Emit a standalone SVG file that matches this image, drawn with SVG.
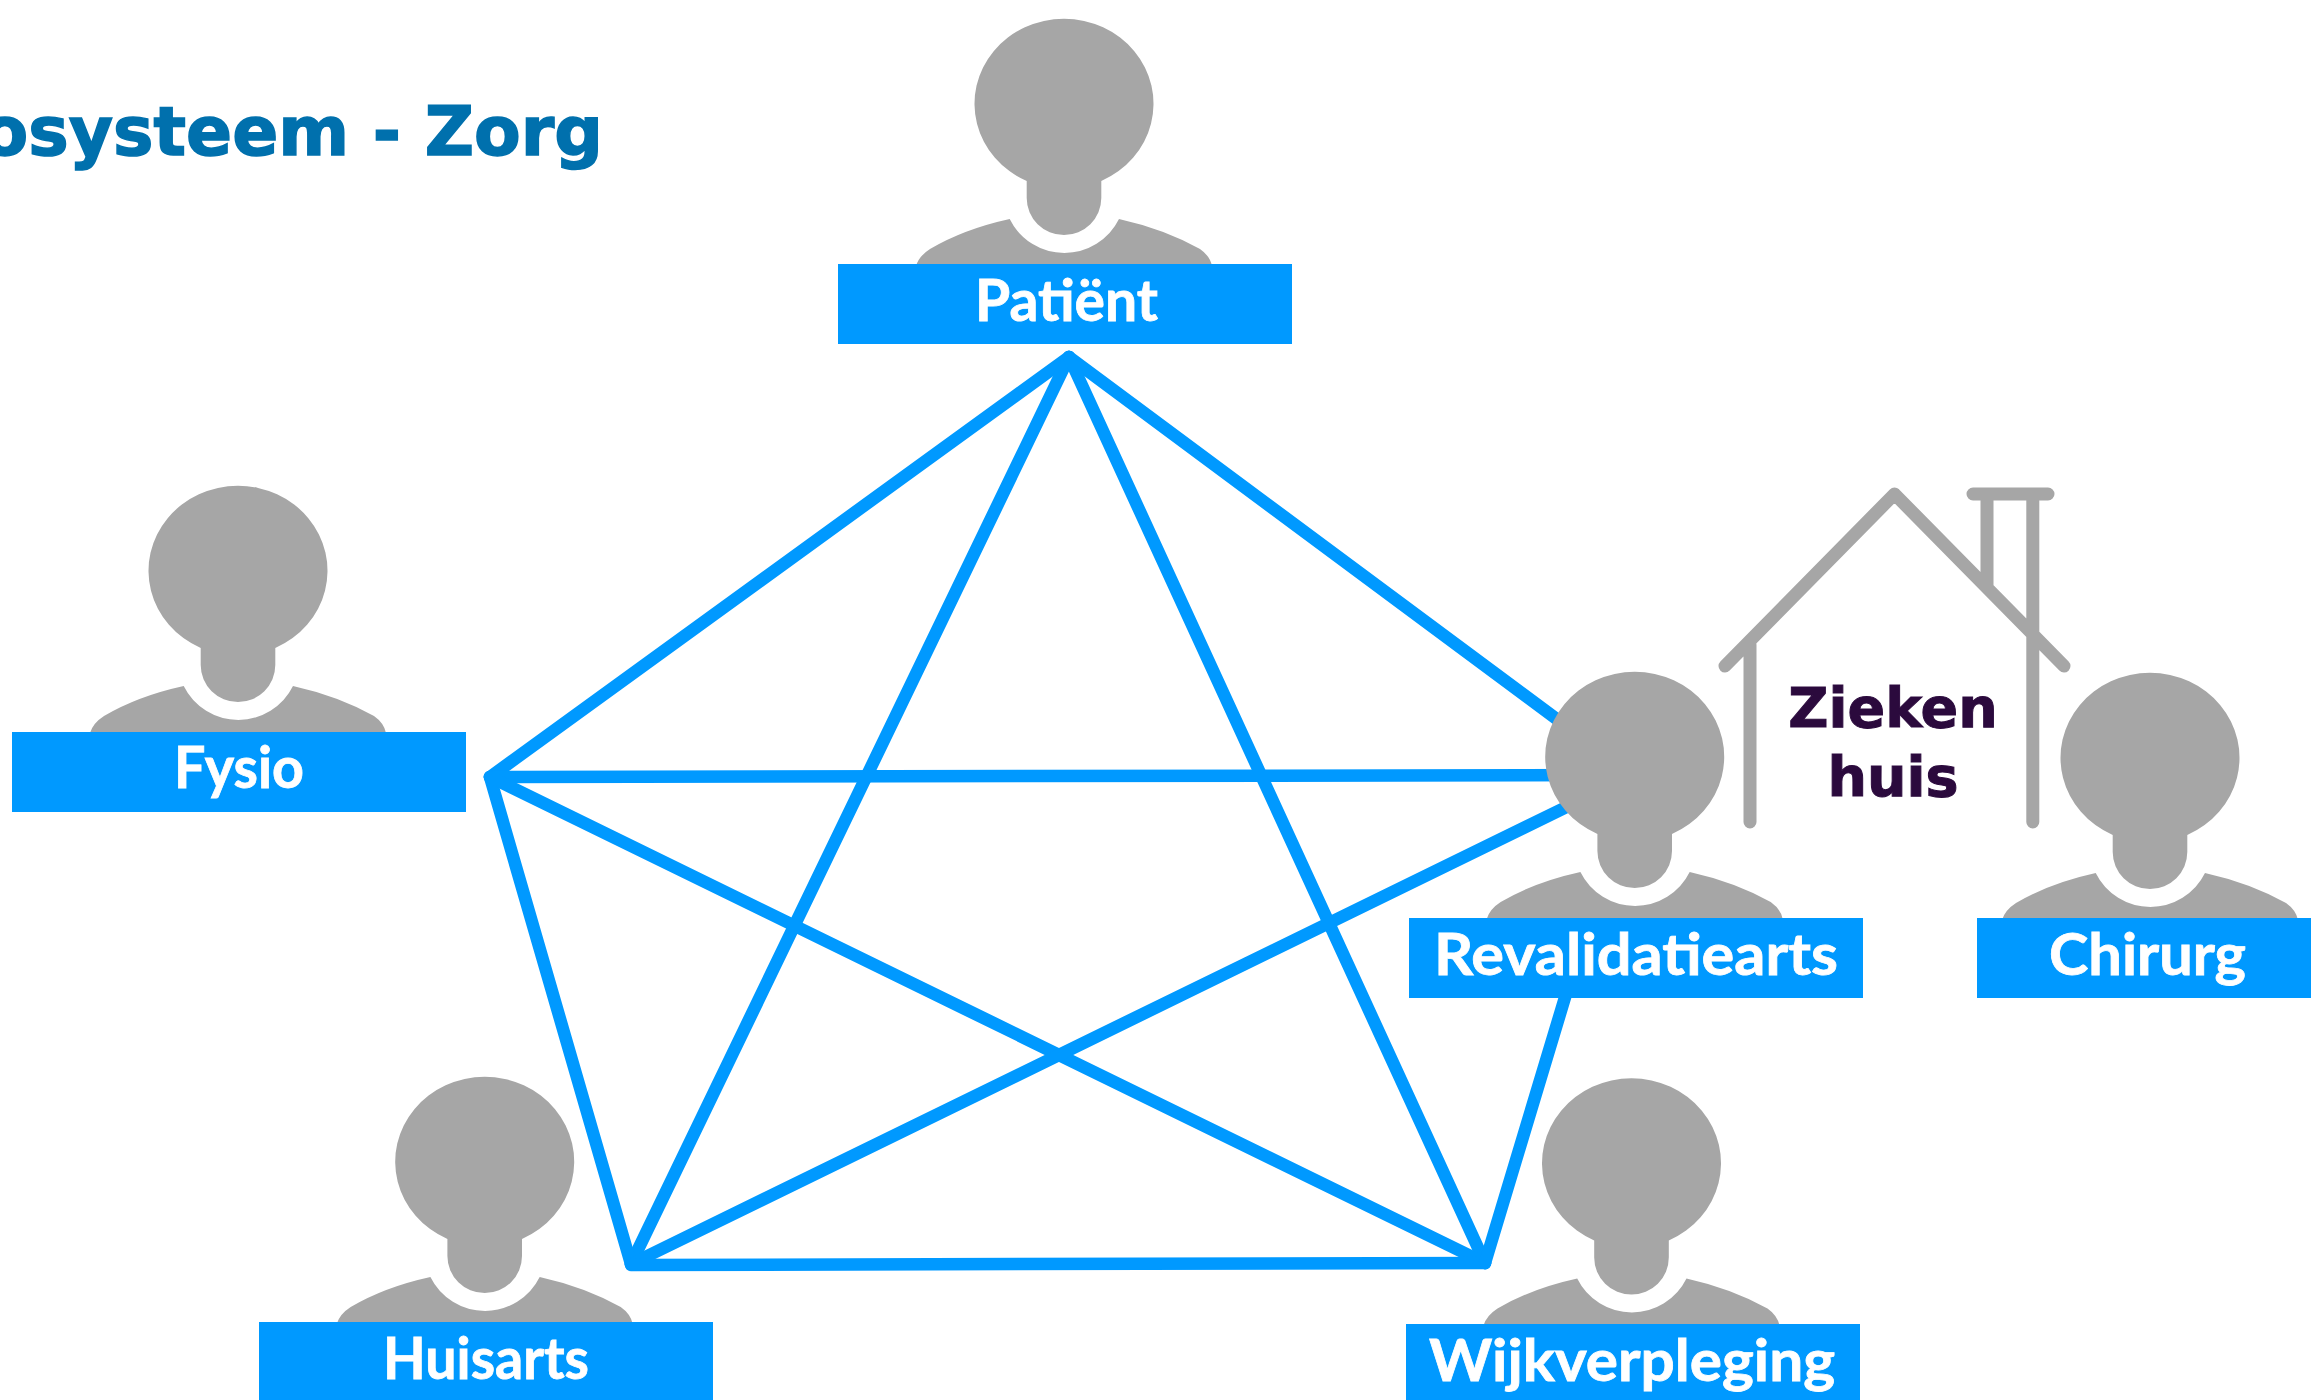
<svg xmlns="http://www.w3.org/2000/svg" xmlns:xlink="http://www.w3.org/1999/xlink" width="2311" height="1400" viewBox="0 0 2311 1400">
<style>
.person{fill:#a6a6a6}
.box{fill:#0099ff}
.lbl{font-family:"Lato","Noto Sans",sans-serif;font-weight:700;font-size:58px;fill:#fff;stroke:#fff;stroke-width:.8}
.conn line{stroke:#0099ff;stroke-width:12.5;stroke-linecap:round}
.house{fill:none;stroke:#a6a6a6;stroke-width:13;stroke-linecap:round;stroke-linejoin:round}
.hlbl{font-family:"DejaVu Sans",sans-serif;font-weight:700;font-size:55.5px;fill:#2b0a3d;stroke:#2b0a3d;stroke-width:1;text-anchor:middle}
.title{font-family:"DejaVu Sans",sans-serif;font-weight:700;font-size:68px;fill:#0070ad;stroke:#0070ad;stroke-width:1.5;text-anchor:end}
</style>
<defs>
<g id="p" class="person">
<rect x="-55" y="170" width="110" height="75" fill="#fff"/>
<path d="M-37.3 181A89.5 85 0 1 1 37.3 181V198A37.3 37 0 0 1-37.3 198Z"/>
<path d="M-148 266Q-145 256-134 249Q-100 229-54.3 219A61 61 0 0 0 55 219Q100 229 136 249Q146 256 148 266Z"/>
</g>
</defs>
<rect width="2311" height="1400" fill="#fff"/>
<text class="title" x="603" y="155">osysteem - Zorg</text>
<g id="connectors" class="conn">
<line x1="1069" y1="357" x2="490" y2="777"/>
<line x1="1069" y1="357" x2="1632" y2="775"/>
<line x1="1069" y1="357" x2="631" y2="1264"/>
<line x1="1069" y1="357" x2="1485" y2="1263"/>
<line x1="490" y1="777" x2="1632" y2="775"/>
<line x1="490" y1="777" x2="631" y2="1264"/>
<line x1="490" y1="777" x2="1485" y2="1263"/>
<line x1="631" y1="1264" x2="1632" y2="775"/>
<line x1="631" y1="1265" x2="1485" y2="1263"/>
<line x1="1485" y1="1263" x2="1632" y2="775"/>
</g>
<g id="node-ziekenhuis">
<path class="house" d="M1725 666L1894.5 494L2064 666M1750 645V822M2032.8 494V822M1987 494V585M1973 494H2048"/>
<text class="hlbl" x="1893" y="727">Zieken</text>
<text class="hlbl" x="1893" y="796">huis</text>
</g>
<g id="node-patient">
<use href="#p" xlink:href="#p" x="1064" y="0"/>
<rect class="box" x="838" y="264" width="454" height="80"/>
<text class="lbl" x="975" y="320.5" textLength="183" lengthAdjust="spacingAndGlyphs">Patiënt</text>
</g>
<g id="node-fysio">
<use href="#p" xlink:href="#p" x="238" y="467"/>
<rect class="box" x="12" y="732" width="454" height="80"/>
<text class="lbl" x="174" y="788" textLength="130" lengthAdjust="spacingAndGlyphs">Fysio</text>
</g>
<g id="node-huisarts">
<use href="#p" xlink:href="#p" x="484.7" y="1058"/>
<rect class="box" x="259" y="1322" width="454" height="80"/>
<text class="lbl" x="383" y="1379" textLength="206" lengthAdjust="spacingAndGlyphs">Huisarts</text>
</g>
<g id="node-wijkverpleging">
<use href="#p" xlink:href="#p" x="1631.5" y="1059.5"/>
<rect class="box" x="1406" y="1324" width="454" height="80"/>
<text class="lbl" x="1429" y="1381" textLength="406" lengthAdjust="spacingAndGlyphs">Wijkverpleging</text>
</g>
<g id="node-revalidatiearts">
<use href="#p" xlink:href="#p" x="1634.7" y="653"/>
<rect class="box" x="1409" y="918" width="454" height="80"/>
<text class="lbl" x="1434" y="974.5" textLength="404" lengthAdjust="spacingAndGlyphs">Revalidatiearts</text>
</g>
<g id="node-chirurg">
<use href="#p" xlink:href="#p" x="2150" y="654"/>
<rect class="box" x="1977" y="918" width="454" height="80"/>
<text class="lbl" x="2049" y="974.5" textLength="197" lengthAdjust="spacingAndGlyphs">Chirurg</text>
</g>
</svg>
